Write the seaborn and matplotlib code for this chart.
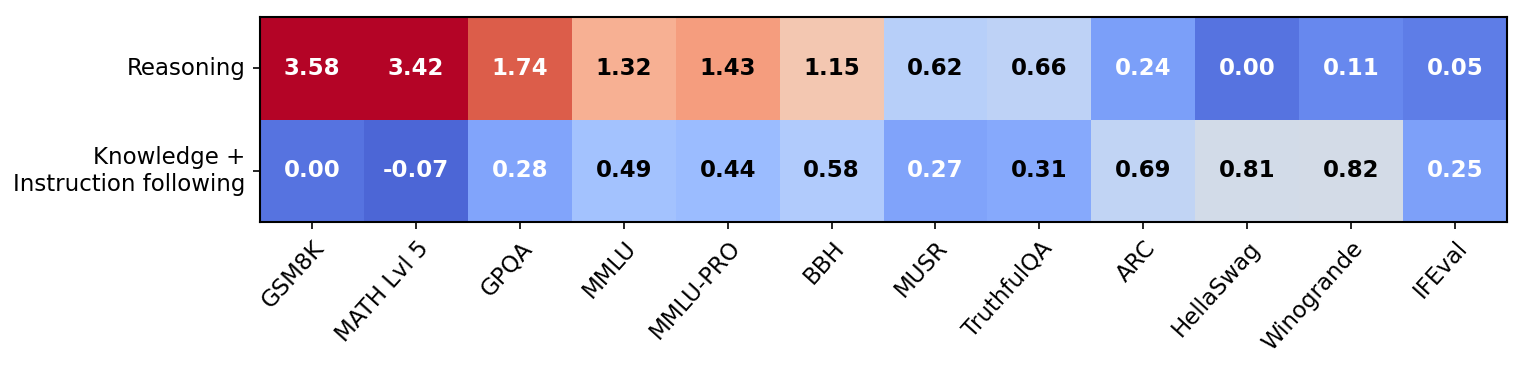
import numpy as np
import pandas as pd
import matplotlib
matplotlib.use("Agg")
import matplotlib.pyplot as plt
import seaborn as sns

# === Data ===
benchmarks = ["GSM8K", "MATH Lvl 5", "GPQA", "MMLU", "MMLU-PRO", "BBH",
              "MUSR", "TruthfulQA", "ARC", "HellaSwag", "Winogrande", "IFEval"]
groups = ["Reasoning", "Knowledge +\nInstruction following"]
reasoning = [3.58, 3.42, 1.74, 1.32, 1.43, 1.15, 0.62, 0.66, 0.24, 0.00, 0.11, 0.05]
knowledge = [0.00, -0.07, 0.28, 0.49, 0.44, 0.58, 0.27, 0.31, 0.69, 0.81, 0.82, 0.25]

df = pd.DataFrame([reasoning, knowledge], index=groups, columns=benchmarks)

# === Plot ===
plt.rcParams["font.family"] = ["DejaVu Sans"]
fig = plt.figure(figsize=(1523 / 150, 367 / 150), dpi=150)
ax = fig.add_axes([260 / 1523, 1 - 222 / 367, (1507 - 260) / 1523, (222 - 17) / 367])

sns.heatmap(df, ax=ax, cmap="coolwarm", vmin=-0.2, vmax=2.0, cbar=False,
            annot=True, fmt=".2f", annot_kws={"fontsize": 11, "fontweight": "bold"})

# text colour: white on strong cells, black on pale ones
for t in ax.texts:
    v = float(t.get_text())
    t.set_color("white" if (v < 0.3 or v > 1.5) else "black")

# frame back on (heatmap strips spines)
for s in ax.spines.values():
    s.set_visible(True)
    s.set_color("black")
    s.set_linewidth(1.0)

ax.tick_params(axis="both", length=3.5, width=0.8, labelsize=11)
plt.setp(ax.get_xticklabels(), rotation=48, ha="right", rotation_mode="anchor")
plt.setp(ax.get_yticklabels(), rotation=0, ha="right", va="center")
ax.set_xlabel("")
ax.set_ylabel("")

fig.savefig("out.png", dpi=150)
